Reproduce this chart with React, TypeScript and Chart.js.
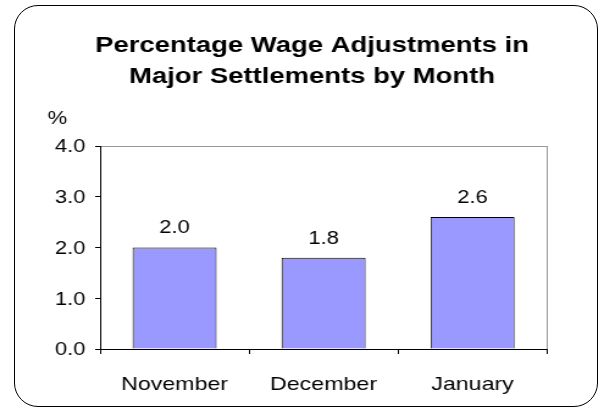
import React, { useEffect, useRef } from "react";
import { Chart, registerables } from "chart.js";

Chart.register(...registerables);

const titleLines = ["Percentage Wage Adjustments in", "Major Settlements by Month"];
const categories = ["November", "December", "January"];
const wageAdjustments = [2.0, 1.8, 2.6];
const yMin = 0;
const yMax = 4;
const yStep = 1;
const unitLabel = "%";

const FONT = "'Liberation Sans', Arial, sans-serif";
const CANVAS_W = 495;
const PAGE_W = 604;
const PAGE_H = 412;

const titlePlugin = {
  id: "stretchedTitle",
  afterDraw(chart: any) {
    const { ctx } = chart;
    ctx.save();
    ctx.font = `bold 22.5px ${FONT}`;
    ctx.fillStyle = "#000";
    ctx.textAlign = "center";
    ctx.textBaseline = "alphabetic";
    const cx = 255.7;
    ctx.fillText(titleLines[0], cx, 51.5);
    ctx.fillText(titleLines[1], cx, 82.5);
    ctx.restore();
  },
};

const valueLabelPlugin = {
  id: "valueLabels",
  afterDatasetsDraw(chart: any) {
    const { ctx } = chart;
    const meta = chart.getDatasetMeta(0);
    ctx.save();
    ctx.font = `18px ${FONT}`;
    ctx.fillStyle = "#000";
    ctx.textAlign = "center";
    ctx.textBaseline = "middle";
    meta.data.forEach((bar: any, i: number) => {
      const v = chart.data.datasets[0].data[i] as number;
      ctx.fillText(v.toFixed(1), bar.x, bar.y - 19);
    });
    ctx.restore();
  },
};

const unitPlugin = {
  id: "unitLabel",
  afterDraw(chart: any) {
    const { ctx, chartArea } = chart;
    ctx.save();
    ctx.font = `18px ${FONT}`;
    ctx.fillStyle = "#000";
    ctx.textAlign = "left";
    ctx.textBaseline = "middle";
    ctx.fillText(unitLabel, chartArea.left - 43, 119);
    ctx.restore();
  },
};

export default function App() {
  const ref = useRef<HTMLCanvasElement | null>(null);

  useEffect(() => {
    if (!ref.current) return;
    const chart = new Chart(ref.current, {
      type: "bar",
      data: {
        labels: categories,
        datasets: [
          {
            data: wageAdjustments,
            backgroundColor: "#9999FF",
            borderColor: "#000000",
            borderWidth: 1,
            barPercentage: 0.564,
            categoryPercentage: 1,
          },
        ],
      },
      options: {
        responsive: false,
        maintainAspectRatio: false,
        devicePixelRatio: 1,
        animation: false,
        layout: { padding: { left: 0, right: 46.7, top: 146, bottom: 0 } },
        plugins: {
          legend: { display: false },
          tooltip: { enabled: false },
          title: { display: false },
        },
        scales: {
          x: {
            afterFit(scale: any) {
              scale.height = 63;
            },
            grid: {
              offset: true,
              drawOnChartArea: true,
              color: (c: any) => (c.tick ? "rgba(0,0,0,0)" : "#999999"),
              tickColor: "#000",
              tickLength: 5,
            },
            border: { color: "#000", width: 1 },
            ticks: {
              color: "#000",
              font: { family: FONT, size: 19 },
              padding: 19,
              maxRotation: 0,
            },
          },
          y: {
            min: yMin,
            max: yMax,
            afterFit(scale: any) {
              scale.width = 82;
            },
            grid: {
              drawOnChartArea: true,
              color: (c: any) => (c.tick && c.tick.value === yMax ? "#999999" : "rgba(0,0,0,0)"),
              tickColor: "#000",
              tickLength: 4,
            },
            border: { color: "#000", width: 1 },
            ticks: {
              stepSize: yStep,
              color: "#000",
              font: { family: FONT, size: 18 },
              padding: 8,
              labelOffset: 1.5,
              callback: (v: any) => Number(v).toFixed(1),
            },
          },
        },
      },
      plugins: [titlePlugin, valueLabelPlugin, unitPlugin],
    });
    return () => chart.destroy();
  }, []);

  return (
    <div
      style={{
        position: "fixed",
        left: 0,
        top: 0,
        width: PAGE_W,
        height: PAGE_H,
        background: "#fff",
      }}
    >
      <canvas
        ref={ref}
        width={CANVAS_W}
        height={PAGE_H}
        style={{ width: `${PAGE_W}px`, height: `${PAGE_H}px`, display: "block" }}
      />
      <div
        style={{
          position: "absolute",
          left: 14,
          top: 5,
          width: 584,
          height: 402,
          boxSizing: "border-box",
          border: "1.3px solid #000",
          borderRadius: 24,
          pointerEvents: "none",
        }}
      />
    </div>
  );
}
